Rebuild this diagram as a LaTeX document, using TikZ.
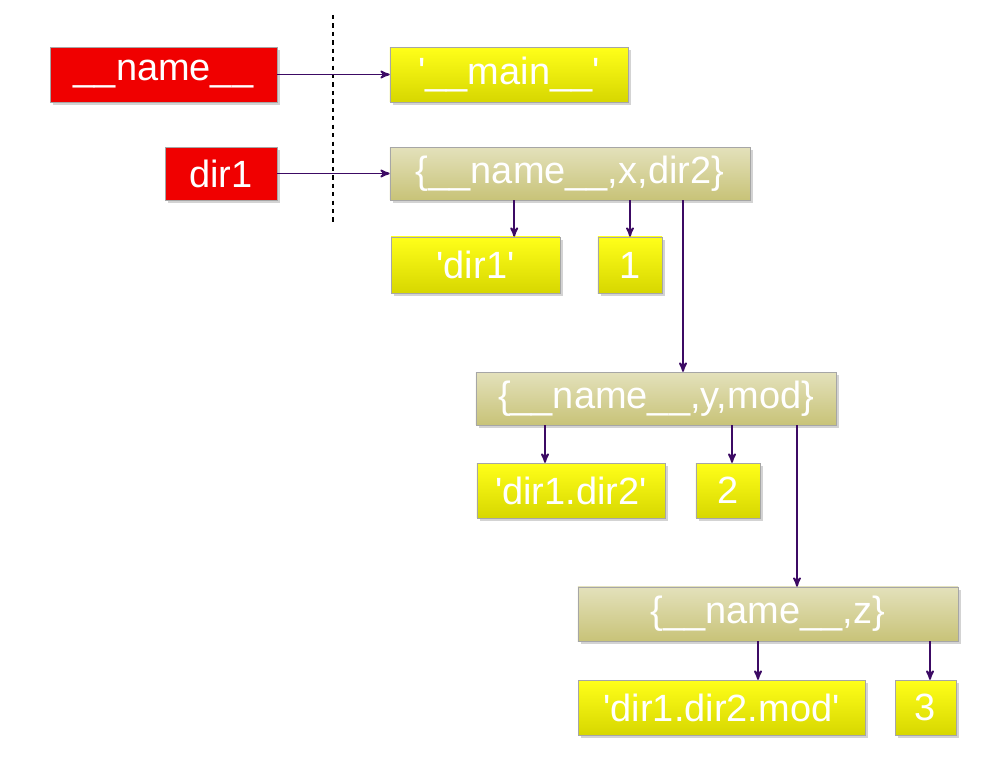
\documentclass[tikz,border=0pt]{standalone}
\usepackage{fontspec}
\setmainfont{Liberation Sans}
\usetikzlibrary{arrows,shadows}
\definecolor{redbox}{RGB}{240,0,0}
\definecolor{yelbox}{RGB}{215,215,0}
\definecolor{khaki}{RGB}{200,195,120}
\definecolor{arrowc}{RGB}{60,10,100}
\newcommand{\q}{\textquotesingle}
\tikzstyle{box} = [rectangle, draw=gray!70, text=white, inner sep=0pt,
  font=\fontsize{27}{30}\selectfont, drop shadow={shadow xshift=2pt, shadow yshift=-2pt, opacity=0.35}]
\tikzstyle{namebox} = [box, fill=redbox]
\tikzstyle{valbox} = [box, top color=yellow!90!white, bottom color=yelbox]
\tikzstyle{dictbox} = [box, top color=khaki!50!white, bottom color=khaki]
\tikzstyle{arrow} = [line width=1.3pt,->,>=stealth', draw=arrowc]

\begin{document}
\begin{tikzpicture}[x=0.025cm, y=-0.025cm]
\useasboundingbox (0,0) rectangle (989,762);
\draw [dashed, thick] (333,15) -- (333,222);
\node (name) [namebox, minimum width=5.67cm, minimum height=1.37cm] at (163.5,74.5) {\_\_name\_\_};
\node (dir) [namebox, minimum width=2.8cm, minimum height=1.32cm] at (221,173.5) {dir1};
\node (main) [valbox, minimum width=5.95cm, minimum height=1.37cm] at (509,74.5) {\q\_\_main\_\_\q};
\node (d1) [dictbox, minimum width=9cm, minimum height=1.32cm] at (570,173.5) {\{\_\_name\_\_,x,dir2\}};
\node (s1) [valbox, minimum width=4.22cm, minimum height=1.4cm] at (475.5,265) {\q dir1\q};
\node (n1) [valbox, minimum width=1.6cm, minimum height=1.4cm] at (630,265) {1};
\node (d2) [dictbox, minimum width=9cm, minimum height=1.32cm] at (656,398.5) {\{\_\_name\_\_,y,mod\}};
\node (s2) [valbox, minimum width=4.7cm, minimum height=1.37cm] at (571,490.5) {\q dir1.dir2\q};
\node (n2) [valbox, minimum width=1.6cm, minimum height=1.37cm] at (728,490.5) {2};
\node (d3) [dictbox, minimum width=9.5cm, minimum height=1.35cm] at (768,614) {\{\_\_name\_\_,z\}};
\node (s3) [valbox, minimum width=7.17cm, minimum height=1.37cm] at (721.5,707.5) {\q dir1.dir2.mod\q};
\node (n3) [valbox, minimum width=1.52cm, minimum height=1.37cm] at (925.5,707.5) {3};
\draw [arrow] (name) -- (main);
\draw [arrow] (dir) -- (d1);
\draw [arrow] (d1.south -| s1.east) ++(-46,0) coordinate (a1) -- (a1 |- s1.north);
\draw [arrow] (d1.south -| n1) -- (n1);
\draw [arrow] (d1.south) ++(113,0) coordinate (a2) -- (a2 |- d2.north);
\draw [arrow] (d2.south) ++(-111,0) coordinate (a3) -- (a3 |- s2.north);
\draw [arrow] (d2.south -| n2) ++(4,0) coordinate (a4) -- (a4 |- n2.north);
\draw [arrow] (d2.south) ++(141,0) coordinate (a5) -- (a5 |- d3.north);
\draw [arrow] (d3.south) ++(-10,0) coordinate (a6) -- (a6 |- s3.north);
\draw [arrow] (d3.south) ++(162,0) coordinate (a7) -- (a7 |- n3.north);
\end{tikzpicture}
\end{document}
